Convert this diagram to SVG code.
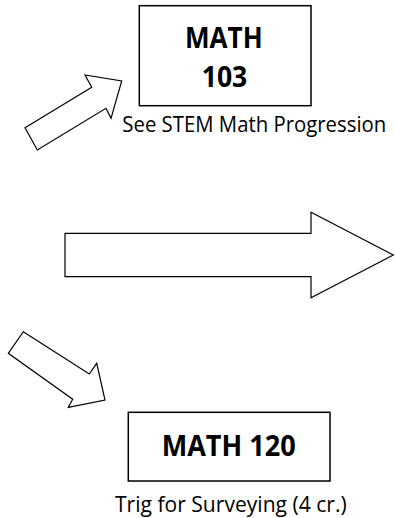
<svg xmlns="http://www.w3.org/2000/svg" width="395" height="518" viewBox="0 0 395 518">
<style>
.box{fill:#fff;stroke:#000;stroke-width:1.5}
.arr{fill:#fff;stroke:#000;stroke-width:1.2;stroke-linejoin:miter}
.t{font-family:"Open Sans","Liberation Sans",sans-serif;fill:#000}
.b{font-weight:bold;font-size:28px}
.s{font-size:21px}
</style>
<rect width="395" height="518" fill="#fff"/>
<g id="connectors">
<polygon class="arr" points="25,127.7 91.7,87.3 85,75 121.7,81 111,118.3 106,108.3 37.3,150"/>
<polygon class="arr" points="65,233.3 311,233.3 311,212.3 393.3,255 311,297.7 311,276.7 65,276.7"/>
<polygon class="arr" points="23.3,331.7 89.3,374 96.7,363.3 105,400 68.3,407.3 72.7,399.3 8.3,353.3"/>
</g>
<g id="math103">
<rect class="box" x="139.3" y="5.7" width="171.7" height="100"/>
<text class="t b" x="185" y="48" textLength="77.7" lengthAdjust="spacingAndGlyphs">MATH</text>
<text class="t b" x="201.7" y="86.7" textLength="45.6" lengthAdjust="spacingAndGlyphs">103</text>
<text class="t s" x="122.3" y="131.7" textLength="264" lengthAdjust="spacingAndGlyphs">See STEM Math Progression</text>
</g>
<g id="math120">
<rect class="box" x="128.3" y="412.3" width="201.7" height="68.7"/>
<text class="t b" x="161.7" y="455.5" textLength="134" lengthAdjust="spacingAndGlyphs">MATH 120</text>
<text class="t s" x="115" y="512" textLength="231.7" lengthAdjust="spacingAndGlyphs">Trig for Surveying (4 cr.)</text>
</g>
</svg>
